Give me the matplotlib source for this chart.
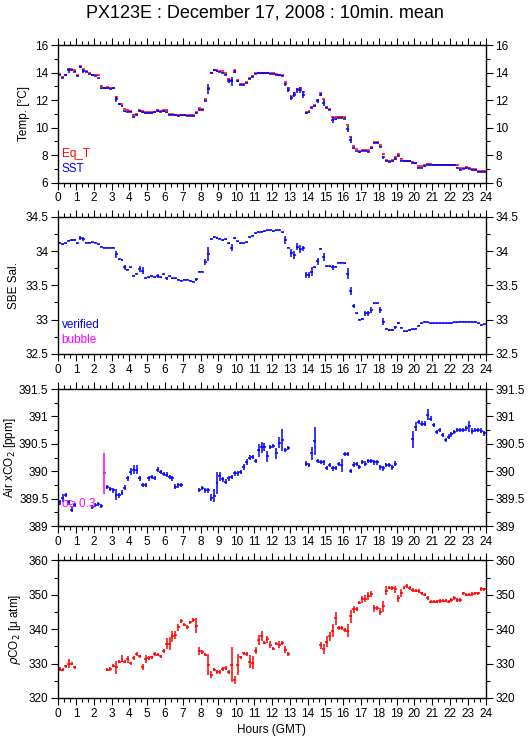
import matplotlib
matplotlib.use("Agg")
import matplotlib.pyplot as plt
import numpy as np
from matplotlib.ticker import MultipleLocator, FormatStrFormatter

plt.rcParams['font.family'] = ['Liberation Sans', 'DejaVu Sans']

nan = np.nan
# 10 minute bins, 144 per day
hours = (np.arange(144) + 0.5) / 6.0

sst = [13.85, 13.6, 13.8, 14.15, 14.2, 14.05, 13.75, 14.4, 14.1, 14.05, 13.9, 13.8,
       13.75, 13.6, 12.85, 12.85, 12.85, 12.8, 12.85, 12.05, 11.7, 11.6, 11.2, 11.15,
       11.15, 10.8, 10.95, 11.2, 11.1, 11.05, 11.05, 11.05, 11.1, 11.2, 11.15, 11.2,
       11.1, 10.95, 10.95, 10.9, 10.85, 10.9, 10.9, 10.85, 10.85, 10.85, 11.05, 11.3,
       11.3, 11.95, 12.8, 14.0, 14.15, 14.1, 14.05, 14.0, 13.85, 13.4, 13.35, 14.05,
       13.35, 13.1, 13.1, 13.25, 13.55, 13.7, 13.9, 13.95, 13.95, 13.95, 13.95, 13.9,
       13.9, 13.85, 13.8, 13.75, 13.15, 12.75, 12.15, 12.4, 12.7, 12.75, 12.4, 11.05,
       11.1, 11.45, 11.55, 11.95, 12.4, 11.8, 11.45, 11.3, 10.55, 10.6, 10.7, 10.7,
       10.65, 9.9, 9.1, 8.55, 8.3, 8.2, 8.3, 8.3, 8.25, 8.5, 8.9, 8.9,
       8.6, 7.85, 7.55, 7.5, 7.55, 7.75, 7.95, 7.6, 7.55, 7.55, 7.55, 7.45,
       7.4, 7.1, 7.1, 7.2, 7.3, 7.3, 7.3, 7.3, 7.3, 7.3, 7.3, 7.3,
       7.3, 7.3, 7.1, 6.95, 7.0, 7.05, 7.0, 6.95, 6.9, 6.8, 6.8, 6.8]

eq_t = [13.9, 13.7, 13.85, 14.25, 14.25, 14.15, 13.8, 14.45, 14.25, 14.1, 13.95, 13.85,
        13.8, 13.8, 13.0, 12.9, 12.95, 12.9, 12.9, 12.25, 11.75, 11.7, 11.35, 11.25,
        11.2, 10.95, 11.0, 11.25, 11.2, 11.1, 11.1, 11.1, 11.15, 11.3, 11.2, 11.25,
        11.25, 11.0, 11.0, 10.95, 10.9, 10.95, 10.95, 10.9, 10.9, 10.9, 11.1, 11.4,
        11.35, 12.05, 12.85, 14.0, 14.2, 14.15, 14.1, 14.1, 13.95, 13.55, 13.45, 14.15,
        13.45, 13.2, 13.2, 13.3, 13.6, 13.75, 13.95, 14.0, 14.0, 14.0, 14.0, 13.95,
        13.95, 13.9, 13.85, 13.8, 13.3, 12.9, 12.3, 12.5, 12.8, 12.85, 12.6, 11.15,
        11.2, 11.5, 11.65, 12.0, 12.5, 12.05, 11.5, 11.35, 10.75, 10.75, 10.8, 10.8,
        10.75, 10.2, 9.35, 8.65, 8.45, 8.3, 8.35, 8.35, 8.35, 8.6, 8.95, 8.95,
        8.75, 8.05, 7.65, 7.6, 7.65, 7.85, 8.05, 7.75, 7.6, 7.6, 7.6, 7.5,
        7.45, 7.2, 7.2, 7.25, 7.35, 7.35, 7.3, 7.3, 7.3, 7.3, 7.3, 7.3,
        7.3, 7.3, 7.25, 7.05, 7.05, 7.15, 7.1, 7.0, 7.0, 6.85, 6.85, 6.85]

sst_err_big = {3: 0.15, 7: 0.1, 8: 0.15, 19: 0.2, 50: 0.35, 57: 0.15, 58: 0.3, 59: 0.1,
               76: 0.1, 77: 0.15, 78: 0.15, 79: 0.2, 80: 0.15, 81: 0.2, 82: 0.25,
               87: 0.15, 88: 0.1, 89: 0.2, 92: 0.2, 97: 0.2, 98: 0.2, 109: 0.1, 113: 0.1}

sal = [34.12, 34.10, 34.11, 34.15, 34.16, 34.16, 34.11, 34.19, 34.18, 34.12, 34.12, 34.13,
       34.12, 34.10, 34.06, 34.05, 34.05, 34.05, 34.05, 33.95, 33.88, 33.87, 33.76, 33.73,
       33.76, 33.64, 33.67, 33.74, 33.71, 33.60, 33.62, 33.63, 33.62, 33.64, 33.62, 33.66,
       33.60, 33.63, 33.60, 33.60, 33.58, 33.57, 33.58, 33.58, 33.57, 33.55, 33.59, 33.70,
       33.70, 33.84, 33.96, 34.17, 34.20, 34.19, 34.18, 34.16, 34.17, 34.11, 34.05, 34.19,
       34.14, 34.11, 34.11, 34.13, 34.20, 34.22, 34.26, 34.27, 34.28, 34.29, 34.30, 34.30,
       34.29, 34.30, 34.30, 34.27, 34.16, 34.05, 33.97, 33.94, 34.06, 34.03, 34.04, 33.65,
       33.65, 33.70, 33.76, 33.85, 34.03, 33.91, 33.78, 33.78, 33.76, 33.77, 33.83, 33.83,
       33.82, 33.67, 33.42, 33.20, 33.09, 33.00, 33.01, 33.09, 33.09, 33.14, 33.24, 33.24,
       33.14, 32.97, 32.87, 32.85, 32.85, 32.89, 32.95, 32.88, 32.83, 32.83, 32.85, 32.86,
       32.87, 32.91, 32.95, 32.97, 32.96, 32.95, 32.95, 32.95, 32.95, 32.95, 32.95, 32.95,
       32.95, 32.96, 32.96, 32.97, 32.97, 32.97, 32.97, 32.97, 32.97, 32.95, 32.92, 32.93]

sal_err_big = {7: 0.03, 8: 0.03, 19: 0.05, 22: 0.04, 27: 0.04, 28: 0.05, 33: 0.03, 36: 0.02,
               46: 0.02, 49: 0.05, 50: 0.1, 58: 0.05, 76: 0.06, 78: 0.06, 79: 0.06, 80: 0.05,
               81: 0.06, 82: 0.04, 83: 0.05, 84: 0.04, 85: 0.06, 87: 0.05, 89: 0.06, 92: 0.03,
               97: 0.08, 98: 0.06, 99: 0.03, 103: 0.04, 104: 0.04, 105: 0.05, 108: 0.04,
               109: 0.05, 113: 0.02, 114: 0.02}

xco2 = [389.43, 389.51, 389.57, 389.43, 389.30, 389.38, nan, nan, nan, nan, nan, 389.35,
        389.38, 389.40, 389.37, nan, 389.71, 389.68, 389.65, 389.57, 389.56, 389.61, 389.70, 389.87,
        389.99, 390.03, 390.03, 389.87, 389.75, 389.75, 389.87, 389.89, 389.88, 390.03, 389.99, 389.95,
        389.94, 389.89, 389.87, 389.72, 389.74, 389.75, nan, nan, nan, nan, nan, 389.66,
        389.69, 389.65, 389.65, 389.52, 389.55, 389.79, 389.91, 389.85, 389.81, 389.87, 389.89, 389.96,
        389.96, 389.99, 390.08, 390.17, 390.25, 390.26, 390.19, 390.38, 390.44, 390.44, 390.27, 390.44,
        390.46, 390.33, 390.52, 390.57, 390.39, 390.42, nan, nan, nan, nan, nan, 390.14,
        390.11, 390.33, 390.55, 390.19, 390.17, 390.16, 390.06, 390.11, 390.05, 390.06, 390.13, 390.11,
        390.31, 390.31, 390.00, 390.12, 390.13, 390.08, 390.17, 390.14, 390.19, 390.19, 390.16, 390.16,
        390.07, 390.05, 390.11, 390.11, 390.07, 390.14, nan, nan, nan, nan, nan, 390.58,
        390.81, 390.90, 390.87, 390.87, 391.03, 390.96, 390.84, 390.71, 390.75, 390.66, 390.57, 390.63,
        390.67, 390.71, 390.75, 390.75, 390.75, 390.78, 390.82, 390.73, 390.75, 390.75, 390.74, 390.69]

xco2_err_big = {1: 0.07, 19: 0.1, 24: 0.06, 25: 0.08, 26: 0.08, 51: 0.06, 52: 0.12, 53: 0.2,
                54: 0.08, 62: 0.06, 63: 0.06, 67: 0.12, 68: 0.1, 69: 0.08, 70: 0.1, 73: 0.1,
                74: 0.1, 75: 0.2, 85: 0.12, 86: 0.25, 95: 0.12, 119: 0.15, 120: 0.08, 124: 0.1,
                138: 0.1, 139: 0.06}

# flagged (bubble) air value
bubble_idx = [15]
bubble_val = [389.96]
bubble_err = [0.37]

pco2 = [328.4, 328.2, 329.2, 330.0, 330.0, 328.9, nan, nan, nan, nan, nan, nan,
        nan, nan, nan, nan, 328.2, 328.4, 329.4, 328.9, 330.6, 331.4, 330.6, 331.3,
        330.1, 331.6, 332.8, 332.1, 329.0, 331.3, 331.6, 331.8, 332.8, 332.6, 332.1, 333.7,
        335.8, 335.8, 337.9, 338.4, 340.6, 342.4, 341.3, 340.6, 342.0, 342.7, 341.0, 333.7,
        333.3, 332.6, 329.7, 326.8, 328.2, 327.5, 327.5, 328.4, 328.7, 327.5, 329.7, 325.3,
        329.7, 331.8, 333.0, 332.8, 330.6, 330.3, 333.7, 336.9, 338.1, 336.1, 337.1, 335.5,
        334.3, 335.8, 335.5, 336.0, 334.0, 332.8, nan, nan, nan, nan, nan, nan,
        nan, nan, nan, nan, 335.3, 334.2, 336.4, 337.9, 339.6, 343.1, 340.3, 340.3,
        339.8, 339.6, 343.7, 345.8, 345.8, 347.7, 348.7, 348.9, 349.7, 350.2, 346.1, 346.1,
        345.1, 346.6, 351.2, 352.1, 351.9, 351.6, 349.0, 350.4, 352.1, 352.6, 351.9, 351.4,
        351.2, 351.1, 350.4, 350.0, 349.0, 348.0, 348.0, 348.0, 348.2, 348.3, 348.3, 348.0,
        348.5, 349.0, 348.5, 348.5, 350.4, 350.0, 350.0, 350.2, 350.4, 350.4, 351.7, 351.6]

pco2_err_big = {3: 1.2, 19: 1.8, 21: 1.0, 23: 1.0, 28: 1.0, 29: 1.2, 36: 1.5, 37: 1.8, 38: 1.5,
                39: 1.2, 40: 1.0, 46: 2.2, 47: 1.2, 50: 3.0, 51: 1.0, 58: 5.0, 59: 1.2, 60: 3.0,
                64: 2.0, 65: 2.0, 66: 1.0, 67: 1.5, 68: 1.5, 70: 1.0, 71: 1.0, 74: 1.0, 76: 1.0,
                88: 1.0, 89: 1.5, 90: 1.5, 91: 1.2, 92: 2.0, 93: 1.8, 97: 2.0, 98: 1.8, 99: 1.0,
                102: 1.0, 103: 1.0, 104: 1.2, 105: 1.0, 106: 1.0, 108: 1.0, 109: 1.5, 110: 1.2,
                113: 1.0, 114: 1.0, 115: 1.2}


def errs(base, big):
    e = np.full(144, base)
    for k, v in big.items():
        e[k] = v
    return e


BLUE = '#0000ff'
RED = '#ff0000'
MAG = '#ff00ff'
FS = 8.5
LW = 1.1

fig = plt.figure(figsize=(5.29, 7.39), dpi=100)
fig.text(0.5, 0.982, 'PX123E : December 17, 2008 : 10min. mean', ha='center', va='center',
         fontsize=13)

left, width = 0.110, 0.808
boxes = [(0.7528, 0.1863), (0.5210, 0.1858), (0.2882, 0.1854), (0.0555, 0.1863)]


def cross(ax, y, e, color):
    ax.errorbar(hours, y, xerr=1 / 12, yerr=e, fmt='none', ecolor=color,
                elinewidth=LW, capsize=0)


def style(ax, ylim, major, minor, ylabel, lpad=4):
    ax.set_xlim(0, 24)
    ax.set_ylim(*ylim)
    ax.xaxis.set_major_locator(MultipleLocator(1))
    ax.xaxis.set_minor_locator(MultipleLocator(1 / 3))
    ax.yaxis.set_major_locator(MultipleLocator(major))
    ax.yaxis.set_minor_locator(MultipleLocator(minor))
    ax.yaxis.set_major_formatter(FormatStrFormatter('%g'))
    ax.tick_params(which='both', direction='out', top=True, right=True,
                   labelright=True, labelsize=FS, width=0.8, pad=2)
    ax.tick_params(which='major', length=5)
    ax.tick_params(which='minor', length=3)
    ax.set_ylabel(ylabel, fontsize=FS, labelpad=lpad)
    for s in ax.spines.values():
        s.set_linewidth(1.0)


axes = [fig.add_axes([left, b, width, h]) for b, h in boxes]

# temperature
ax = axes[0]
cross(ax, eq_t, errs(0.02, {}), RED)
cross(ax, sst, errs(0.03, sst_err_big), BLUE)
style(ax, (6, 16), 2, 1, 'Temp. [°C]')
ax.text(0.008, 0.19, 'Eq_T', color=RED, fontsize=FS, transform=ax.transAxes)
ax.text(0.008, 0.08, 'SST', color=BLUE, fontsize=FS, transform=ax.transAxes)

# salinity
ax = axes[1]
cross(ax, sal, errs(0.008, sal_err_big), BLUE)
style(ax, (32.5, 34.5), 0.5, 0.25, 'SBE Sal.')
ax.text(0.008, 0.19, 'verified', color=BLUE, fontsize=FS, transform=ax.transAxes)
ax.text(0.008, 0.08, 'bubble', color=MAG, fontsize=FS, transform=ax.transAxes)

# air xCO2
ax = axes[2]
cross(ax, xco2, errs(0.04, xco2_err_big), BLUE)
ax.errorbar(hours[bubble_idx], bubble_val, xerr=1 / 12, yerr=bubble_err, fmt='none',
            ecolor=MAG, elinewidth=LW, capsize=0)
style(ax, (389, 391.5), 0.5, 0.25, 'Air xCO$_2$ [ppm]', lpad=1)
ax.text(0.008, 0.14, 'σ≥ 0.3', color=MAG, fontsize=FS, transform=ax.transAxes)

# pCO2
ax = axes[3]
cross(ax, pco2, errs(0.5, pco2_err_big), RED)
style(ax, (320, 360), 10, 5, '$\\rho$CO$_2$ [μ atm]')
ax.set_xlabel('Hours (GMT)', fontsize=FS, labelpad=3)

fig.savefig('out.png', dpi=100)
